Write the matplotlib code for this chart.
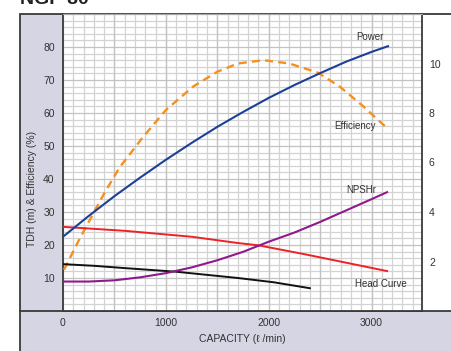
import matplotlib
matplotlib.use("Agg")
import matplotlib.pyplot as plt
from matplotlib.patches import Rectangle
from matplotlib.lines import Line2D
from matplotlib.ticker import MultipleLocator

# ---- data ----
eff_x = [10, 150, 290, 400, 550, 780, 1000, 1265, 1500, 1700, 1950, 2200, 2480, 2690, 2920, 3150]
eff_y = [12.5, 21.2, 29.3, 35.6, 43.5, 52.8, 60.9, 68.0, 72.5, 75.0, 76.0, 75.0, 72.2, 68.0, 62.0, 55.4]

power_x = [0, 250, 500, 750, 1000, 1250, 1500, 1750, 2000, 2250, 2500, 2750, 3000, 3160]
power_y = [3.0, 3.84, 4.64, 5.39, 6.11, 6.79, 7.44, 8.04, 8.61, 9.13, 9.61, 10.07, 10.47, 10.7]

head_x = [0, 600, 1250, 1700, 1900, 2350, 3150]
head_y = [25.5, 24.3, 22.5, 20.6, 19.9, 17.2, 12.1]

black_x = [0, 300, 600, 1100, 1700, 2050, 2400]
black_y = [14.2, 13.7, 13.0, 11.9, 10.0, 8.7, 6.9]

npsh_x = [0, 250, 500, 750, 1000, 1250, 1500, 1750, 2000, 2250, 2500, 2750, 3000, 3150]
npsh_y = [1.19, 1.19, 1.24, 1.36, 1.53, 1.76, 2.05, 2.39, 2.8, 3.17, 3.6, 4.06, 4.52, 4.8]

x_ticks = [0, 1000, 2000, 3000]
left_ticks = [10, 20, 30, 40, 50, 60, 70, 80]
right_ticks = [2, 4, 6, 8, 10]

FONT = ['Liberation Sans Narrow', 'Liberation Sans', 'DejaVu Sans']
plt.rcParams['font.family'] = FONT

W, H = 451, 351
fig = plt.figure(figsize=(W / 100, H / 100), dpi=100)
fig.patch.set_facecolor('white')

lav = '#d5d5e3'
dark = '#3a3a3a'
# lavender frame panel
fig.patches.append(Rectangle((20 / W, -0.1), 1.2, (H - 14) / H + 0.1,
                             transform=fig.transFigure, facecolor=lav,
                             edgecolor=dark, lw=1.3, zorder=-3))
# white region on the right of the plot
fig.patches.append(Rectangle((422 / W, 40 / H), 0.2, (311 - 14) / H - 0.002,
                             transform=fig.transFigure, facecolor='white',
                             edgecolor='none', zorder=-2))
fig.lines.append(Line2D([20 / W, 1.0], [40 / H, 40 / H], transform=fig.transFigure,
                        color=dark, lw=1.3, zorder=-1))

# title (cut off at the top)
fig.text(20 / W, 1 - 4 / H, 'NGP 80', fontsize=14, fontweight='bold',
         family=['Liberation Sans', 'DejaVu Sans'], ha='left', va='baseline', color='#222')

ax = fig.add_axes([63 / W, 40 / H, (422 - 63) / W, (311 - 14) / H])
ax.set_zorder(1)
ax.set_xlim(0, 3490)
ax.set_ylim(0, 90)
ax.set_facecolor('white')

ax.xaxis.set_minor_locator(MultipleLocator(100))
ax.yaxis.set_minor_locator(MultipleLocator(2))
ax.set_xticks(x_ticks)
ax.set_yticks(left_ticks)
ax.grid(which='minor', color='#d3d3d3', lw=0.9)
ax.grid(which='major', color='#c2c2c2', lw=0.9)
ax.set_axisbelow(True)
for gx in range(500, 3500, 500):
    ax.axvline(gx, color='#c2c2c2', lw=0.9, zorder=0.6)

ax.tick_params(which='both', length=0)
ax.tick_params(axis='y', pad=6, labelsize=7.5, labelcolor='#333')
ax.tick_params(axis='x', pad=5, labelsize=7.5, labelcolor='#333')

for s in ['left', 'bottom', 'right']:
    ax.spines[s].set_color(dark)
    ax.spines[s].set_linewidth(1.3)
ax.spines['top'].set_color('#aaaaaa')
ax.spines['top'].set_linewidth(0.8)

ax.set_xlabel('CAPACITY (ℓ /min)', fontsize=7.5, color='#333', labelpad=4,
              family=['Liberation Sans', 'DejaVu Sans'])
ax.set_ylabel('TDH (m) & Efficiency (%)', fontsize=7.5, color='#333')
ax.yaxis.set_label_coords(-0.072, 0.41)

ax2 = ax.twinx()
ax2.set_ylim(0, 12)
ax2.set_yticks(right_ticks)
ax2.tick_params(length=0, pad=5, labelsize=7.5, labelcolor='#333')
for s in ax2.spines.values():
    s.set_visible(False)
ax2.set_ylabel('Power (kW) & NPSHr (m)', fontsize=7.5, color='#333', labelpad=10)
ax2.yaxis.set_label_coords(1.085, 0.5)

# curves
ax.plot(eff_x, eff_y, color='#f5901e', lw=1.7, ls=(0, (3.4, 2.2)), zorder=3)
ax2.plot(power_x, power_y, color='#1d3f98', lw=1.5, zorder=3)
ax.plot(head_x, head_y, color='#ec2227', lw=1.4, zorder=3)
ax.plot(black_x, black_y, color='#111111', lw=1.4, zorder=3)
ax2.plot(npsh_x, npsh_y, color='#8e1a8c', lw=1.5, zorder=3)

lab = dict(fontsize=7, color='#333', ha='center', va='center')
ax.text(2980, 83, 'Power', **lab)
ax.text(2835, 56, 'Efficiency', **lab)
ax.text(2903, 36.7, 'NPSHr', **lab)
ax.text(3087, 8.2, 'Head Curve', **lab)

fig.savefig('out.png', dpi=100)
